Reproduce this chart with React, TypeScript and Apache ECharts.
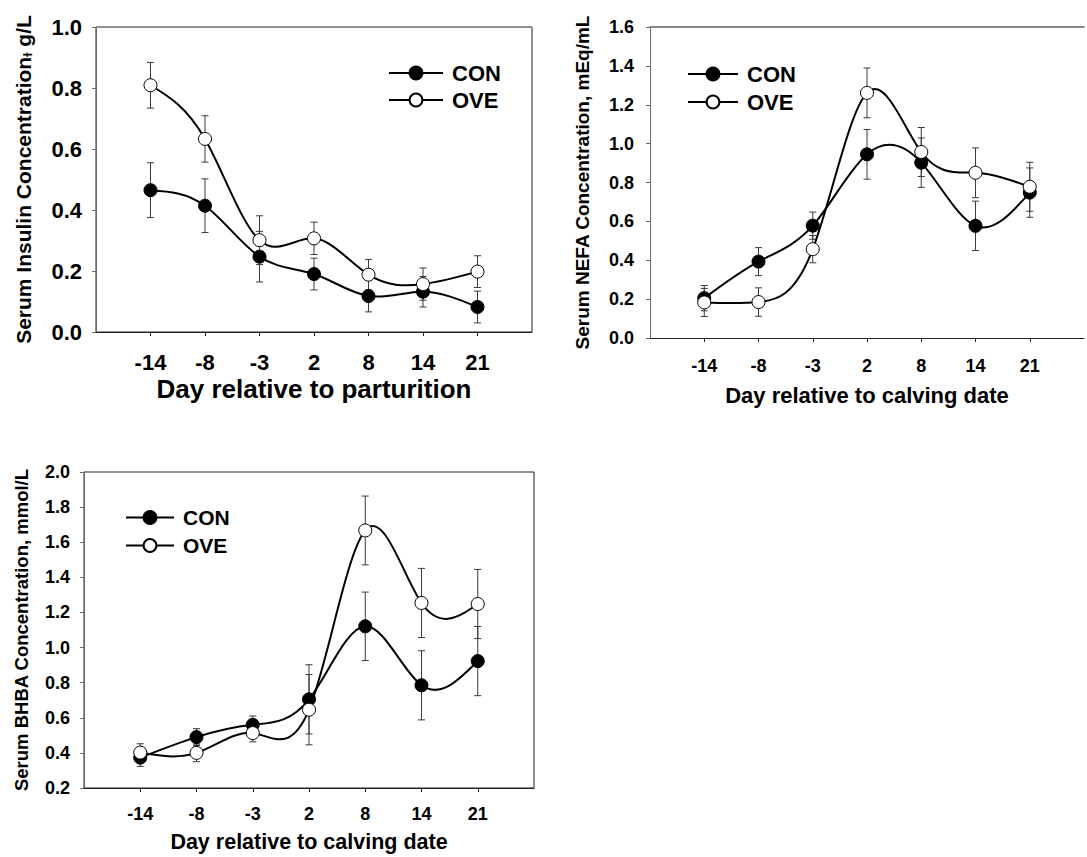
import React, { useEffect, useRef } from "react";
import * as echarts from "echarts";

// Sampling days relative to parturition / calving
const days = ["-14", "-8", "-3", "2", "8", "14", "21"];

// Serum insulin, g/L
const insulinCon = [0.465, 0.414, 0.247, 0.19, 0.118, 0.132, 0.082];
const insulinConSem = [0.09, 0.088, 0.083, 0.052, 0.052, 0.05, 0.052];
const insulinOve = [0.809, 0.633, 0.301, 0.307, 0.188, 0.157, 0.198];
const insulinOveSem = [0.075, 0.076, 0.08, 0.053, 0.05, 0.053, 0.052];

// Serum NEFA, mEq/mL
const nefaCon = [0.205, 0.393, 0.578, 0.945, 0.902, 0.577, 0.748];
const nefaConSem = [0.065, 0.072, 0.07, 0.128, 0.127, 0.127, 0.127];
const nefaOve = [0.183, 0.185, 0.457, 1.261, 0.957, 0.85, 0.778];
const nefaOveSem = [0.072, 0.073, 0.07, 0.128, 0.126, 0.128, 0.126];

// Serum BHBA, mmol/L
const bhbaCon = [0.373, 0.49, 0.56, 0.705, 1.121, 0.785, 0.923];
const bhbaConSem = [0.05, 0.048, 0.05, 0.197, 0.195, 0.197, 0.197];
const bhbaOve = [0.402, 0.4, 0.513, 0.646, 1.667, 1.254, 1.248];
const bhbaOveSem = [0.05, 0.05, 0.05, 0.2, 0.196, 0.197, 0.197];

const FONT = "'Liberation Sans', Arial, Helvetica, sans-serif";

// Category slots: an empty slot on each side of the sampled days
const slots = ["", ...days, ""];
const padded = (v: number[]) => [null, ...v, null];
const withSem = (v: number[], sem: number[]) => v.map((y, i) => [i + 1, y, sem[i]]);
const asPoints = (v: number[]) => v.map((y, i) => [i + 1, y]);

const errorBarItem = (params: any, api: any) => {
  const x = api.value(0);
  const y = api.value(1);
  const e = api.value(2);
  const hi = api.coord([x, y + e]);
  const lo = api.coord([x, y - e]);
  const w = 3.5;
  const style = { stroke: "#3a3a3a", lineWidth: 1 };
  return {
    type: "group",
    children: [
      { type: "line", shape: { x1: hi[0], y1: hi[1], x2: lo[0], y2: lo[1] }, style },
      { type: "line", shape: { x1: hi[0] - w, y1: hi[1], x2: hi[0] + w, y2: hi[1] }, style },
      { type: "line", shape: { x1: lo[0] - w, y1: lo[1], x2: lo[0] + w, y2: lo[1] }, style },
    ],
  };
};

// Natural cubic spline through the pixel positions of the means;
// each data item draws the Bezier segment to the next point.
const splineItem = (values: number[]) => (params: any, api: any) => {
  const k = params.dataIndex;
  const n = values.length;
  if (k >= n - 1) return { type: "group", children: [] };
  const pts = values.map((v, i) => api.coord([i + 1, v]));
  const xs = pts.map((p: number[]) => p[0]);
  const ys = pts.map((p: number[]) => p[1]);
  const h: number[] = [];
  for (let i = 0; i < n - 1; i++) h.push(xs[i + 1] - xs[i]);
  // tridiagonal solve for second derivatives, natural ends
  const M = new Array(n).fill(0);
  const a: number[] = new Array(n).fill(0);
  const b: number[] = new Array(n).fill(1);
  const c: number[] = new Array(n).fill(0);
  const d: number[] = new Array(n).fill(0);
  for (let i = 1; i < n - 1; i++) {
    a[i] = h[i - 1];
    b[i] = 2 * (h[i - 1] + h[i]);
    c[i] = h[i];
    d[i] = 6 * ((ys[i + 1] - ys[i]) / h[i] - (ys[i] - ys[i - 1]) / h[i - 1]);
  }
  for (let i = 1; i < n; i++) {
    const m = a[i] / b[i - 1];
    b[i] -= m * c[i - 1];
    d[i] -= m * d[i - 1];
  }
  M[n - 1] = d[n - 1] / b[n - 1];
  for (let i = n - 2; i >= 0; i--) M[i] = (d[i] - c[i] * M[i + 1]) / b[i];
  M[0] = 0;
  M[n - 1] = 0;
  const hk = h[k];
  const slope = (ys[k + 1] - ys[k]) / hk;
  const m0 = slope - (hk * (2 * M[k] + M[k + 1])) / 6;
  const m1 = slope + (hk * (M[k] + 2 * M[k + 1])) / 6;
  return {
    type: "bezierCurve",
    shape: {
      x1: xs[k],
      y1: ys[k],
      cpx1: xs[k] + hk / 3,
      cpy1: ys[k] + (m0 * hk) / 3,
      cpx2: xs[k + 1] - hk / 3,
      cpy2: ys[k + 1] - (m1 * hk) / 3,
      x2: xs[k + 1],
      y2: ys[k + 1],
    },
    style: { stroke: "#000", lineWidth: 2, fill: null },
  };
};

const xAxisFor = (gridIndex: number, name: string, labelSize: number, nameSize: number, margin: number, nameGap: number) => ({
  type: "category",
  gridIndex,
  data: slots,
  boundaryGap: false,
  name,
  nameLocation: "middle",
  nameGap,
  nameTextStyle: { fontFamily: FONT, fontWeight: "bold", fontSize: nameSize, color: "#000" },
  axisLine: { show: true, lineStyle: { color: "#222", width: 1 } },
  axisTick: { show: true, inside: false, length: 4, interval: (i: number) => i > 0 && i < slots.length - 1, lineStyle: { color: "#222" } },
  axisLabel: { interval: 0, margin, fontFamily: FONT, fontWeight: "bold", fontSize: labelSize, color: "#000" },
  splitLine: { show: false },
});

const topLine = (gridIndex: number, width: number) => ({
  type: "category",
  gridIndex,
  position: "top",
  data: slots,
  boundaryGap: false,
  axisLine: { show: true, lineStyle: { color: "#8a8a8a", width } },
  axisTick: { show: false },
  axisLabel: { show: false },
  splitLine: { show: false },
});

const yAxisFor = (gridIndex: number, min: number, max: number, interval: number, name: any, nameSize: number, labelSize: number, margin: number, nameGap: number, rich?: any) => ({
  type: "value",
  gridIndex,
  min,
  max,
  interval,
  name,
  nameLocation: "middle",
  nameRotate: 90,
  nameGap,
  nameTextStyle: { fontFamily: FONT, fontWeight: "bold", fontSize: nameSize, color: "#000", rich },
  axisLine: { show: true, lineStyle: { color: "#6a6a6a", width: 1 } },
  axisTick: { show: true, inside: false, length: 4, lineStyle: { color: "#6a6a6a" } },
  axisLabel: { margin, fontFamily: FONT, fontWeight: "bold", fontSize: labelSize, color: "#000", formatter: (v: number) => v.toFixed(1) },
  splitLine: { show: false },
});

// Markers only; the connecting curve is the spline series below
const markerSeries = (name: string, idx: number, data: number[], filled: boolean) => ({
  name,
  type: "line",
  xAxisIndex: idx,
  yAxisIndex: idx,
  data: padded(data),
  symbol: "circle",
  symbolSize: 13,
  showSymbol: true,
  lineStyle: { color: "#000", width: 0, opacity: 0 },
  itemStyle: { color: filled ? "#000" : "#fff", borderColor: "#000", borderWidth: 1 },
  z: 4,
});

const curveSeries = (name: string, idx: number, v: number[]) => ({
  name,
  type: "custom",
  xAxisIndex: idx,
  yAxisIndex: idx,
  data: asPoints(v),
  encode: { x: 0, y: 1 },
  renderItem: splineItem(v),
  z: 3,
  silent: true,
});

const errSeries = (name: string, idx: number, v: number[], sem: number[]) => ({
  name,
  type: "custom",
  xAxisIndex: idx,
  yAxisIndex: idx,
  data: withSem(v, sem),
  encode: { x: 0, y: 1 },
  renderItem: errorBarItem,
  z: 2,
  silent: true,
});

const legendAt = (left: number, top: number, itemWidth: number, gap: number, size: number) => ({
  left,
  top,
  orient: "vertical",
  itemWidth,
  itemHeight: 16,
  itemGap: gap,
  data: ["CON", "OVE"],
  selectedMode: false,
  lineStyle: { color: "#000", width: 2, opacity: 1 },
  textStyle: { fontFamily: FONT, fontWeight: "bold", fontSize: size, color: "#000", padding: [0, 0, 0, 4] },
});

export default function App() {
  const ref = useRef<HTMLDivElement>(null);

  useEffect(() => {
    if (!ref.current) return;
    const chart = echarts.init(ref.current, undefined, { renderer: "svg" });
    chart.setOption({
      animation: false,
      backgroundColor: "#fff",
      grid: [
        { left: 96, top: 27, width: 436, height: 305, show: true, borderColor: "#222", borderWidth: 1, backgroundColor: "transparent" },
        { left: 650, top: 27, width: 440, height: 311, show: false },
        { left: 84, top: 472, width: 450, height: 316, show: true, borderColor: "#222", borderWidth: 1, backgroundColor: "transparent" },
      ],
      legend: [legendAt(383, 57, 54, 5, 22), legendAt(682, 58, 50, 6, 22), legendAt(120, 502, 48, 7, 21)],
      xAxis: [
        xAxisFor(0, "Day relative to parturition", 22, 26, 19, 44),
        xAxisFor(1, "Day relative to calving date", 18, 22, 19, 46),
        xAxisFor(2, "Day relative to calving date", 18, 21.5, 17, 43),
        topLine(0, 1),
        topLine(1, 2),
      ],
      yAxis: [
        yAxisFor(0, 0, 1.0, 0.2, "Serum Insulin Concentration{sub|ɫ} g/L", 21, 22, 14, 62, {
          sub: { fontFamily: FONT, fontWeight: "bold", fontSize: 13, color: "#000", verticalAlign: "bottom", padding: [8, 0, 0, 0] },
        }),
        yAxisFor(1, 0, 1.6, 0.2, "Serum NEFA Concentration, mEq/mL", 19, 18, 16, 58),
        yAxisFor(2, 0.2, 2.0, 0.2, "Serum BHBA Concentration, mmol/L", 18.5, 18, 14, 53),
      ],
      series: [
        errSeries("CON SEM insulin", 0, insulinCon, insulinConSem),
        errSeries("OVE SEM insulin", 0, insulinOve, insulinOveSem),
        curveSeries("CON curve insulin", 0, insulinCon),
        curveSeries("OVE curve insulin", 0, insulinOve),
        markerSeries("CON", 0, insulinCon, true),
        markerSeries("OVE", 0, insulinOve, false),
        errSeries("CON SEM NEFA", 1, nefaCon, nefaConSem),
        errSeries("OVE SEM NEFA", 1, nefaOve, nefaOveSem),
        curveSeries("CON curve NEFA", 1, nefaCon),
        curveSeries("OVE curve NEFA", 1, nefaOve),
        markerSeries("CON", 1, nefaCon, true),
        markerSeries("OVE", 1, nefaOve, false),
        errSeries("CON SEM BHBA", 2, bhbaCon, bhbaConSem),
        errSeries("OVE SEM BHBA", 2, bhbaOve, bhbaOveSem),
        curveSeries("CON curve BHBA", 2, bhbaCon),
        curveSeries("OVE curve BHBA", 2, bhbaOve),
        markerSeries("CON", 2, bhbaCon, true),
        markerSeries("OVE", 2, bhbaOve, false),
      ],
    });
    return () => chart.dispose();
  }, []);

  return <div ref={ref} style={{ position: "absolute", left: 0, top: 0, width: 1087, height: 857 }} />;
}
